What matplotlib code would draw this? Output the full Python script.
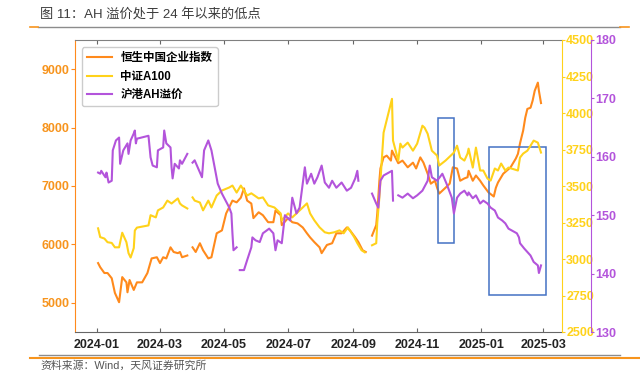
import numpy as np
import pandas as pd
import matplotlib
matplotlib.use("Agg")
import matplotlib.pyplot as plt
import matplotlib.dates as mdates
from matplotlib.patches import Rectangle
from matplotlib.lines import Line2D

plt.rcParams['font.family'] = ['Liberation Sans', 'Noto Sans CJK SC', 'DejaVu Sans']

nan = np.nan

# 恒生中国企业指数 (左轴)
hs_dates = ["2024-01-02", "2024-01-04", "2024-01-08", "2024-01-11", "2024-01-15", "2024-01-18",
            "2024-01-22", "2024-01-25", "2024-01-29", "2024-01-30", "2024-02-01", "2024-02-05",
            "2024-02-08", "2024-02-13", "2024-02-18", "2024-02-22", "2024-02-27", "2024-03-01",
            "2024-03-04", "2024-03-07", "2024-03-11", "2024-03-14", "2024-03-18", "2024-03-20",
            "2024-03-22", "2024-03-27", "2024-03-29", "2024-04-01", "2024-04-04", "2024-04-08",
            "2024-04-11", "2024-04-16", "2024-04-19", "2024-04-24", "2024-04-29", "2024-05-03",
            "2024-05-09", "2024-05-13", "2024-05-17", "2024-05-20", "2024-05-23", "2024-05-27",
            "2024-05-29", "2024-06-03", "2024-06-07", "2024-06-12", "2024-06-17", "2024-06-19",
            "2024-06-24", "2024-06-25", "2024-07-01", "2024-07-05", "2024-07-10", "2024-07-15",
            "2024-07-19", "2024-07-22", "2024-07-26", "2024-07-31", "2024-08-02", "2024-08-07",
            "2024-08-12", "2024-08-16", "2024-08-21", "2024-08-26", "2024-08-29", "2024-09-03",
            "2024-09-06", "2024-09-10", "2024-09-13", "2024-09-16", "2024-09-19", "2024-09-23",
            "2024-09-24", "2024-09-26", "2024-09-27", "2024-09-30", "2024-10-03", "2024-10-07",
            "2024-10-08", "2024-10-14", "2024-10-18", "2024-10-23", "2024-10-28", "2024-10-31",
            "2024-11-04", "2024-11-07", "2024-11-11", "2024-11-14", "2024-11-18", "2024-11-20",
            "2024-11-22", "2024-11-28", "2024-12-02", "2024-12-05", "2024-12-09", "2024-12-12",
            "2024-12-16", "2024-12-19", "2024-12-20", "2024-12-24", "2024-12-27", "2024-12-31",
            "2025-01-03", "2025-01-08", "2025-01-13", "2025-01-15", "2025-01-17", "2025-01-22",
            "2025-01-29", "2025-02-03", "2025-02-05", "2025-02-07", "2025-02-10", "2025-02-12",
            "2025-02-14", "2025-02-17", "2025-02-19", "2025-02-21", "2025-02-24", "2025-02-25",
            "2025-02-27"]
hs_vals = [5680, 5610, 5510, 5510, 5420, 5170,
           5010, 5440, 5350, 5180, 5390, 5220,
           5350, 5350, 5510, 5760, 5780, 5680,
           5780, 5760, 5950, 5870, 5850, 5870,
           5780, 5810, nan, 5950, 5870, 6020,
           5900, 5760, 5780, 6190, 6240, 6530,
           6750, 6720, 6800, 6960, 6750, 6700,
           6450, 6550, 6500, 6380, 6380, 6580,
           6500, 6330, 6450, 6380, 6360, 6290,
           6190, 6120, 6040, 5950, 5850, 5990,
           6020, 6190, 6190, 6290, 6240, 6120,
           6040, 5900, 5870, nan, 6150, 6330,
           6530, 7090, 7300, 7490, 7520, 7435,
           7606, 7390, 7435, 7320, 7400, 7300,
           7490, 7400, 7210, 7040, 7090, 6970,
           6870, 6970, 7040, 7320, 7300, 7090,
           7130, 7150, 7260, 7090, 7180, 7090,
           7010, 6890, 6820, 6970, 7060, 7210,
           7320, 7470, 7550, 7730, 7950, 8170,
           8320, 8340, 8460, 8630, 8770, 8630,
           8420]

# 中证A100 (右轴1)
a100_dates = ["2024-01-02", "2024-01-04", "2024-01-08", "2024-01-11", "2024-01-15", "2024-01-18",
              "2024-01-22", "2024-01-25", "2024-01-29", "2024-01-31", "2024-02-02", "2024-02-05",
              "2024-02-06", "2024-02-08", "2024-02-19", "2024-02-21", "2024-02-26", "2024-02-28",
              "2024-03-04", "2024-03-08", "2024-03-12", "2024-03-18", "2024-03-20", "2024-03-22",
              "2024-03-27", "2024-03-29", "2024-04-01", "2024-04-03", "2024-04-08", "2024-04-11",
              "2024-04-16", "2024-04-19", "2024-04-24", "2024-04-29", "2024-05-06", "2024-05-09",
              "2024-05-13", "2024-05-17", "2024-05-23", "2024-05-27", "2024-06-03", "2024-06-07",
              "2024-06-12", "2024-06-18", "2024-06-24", "2024-06-25", "2024-07-01", "2024-07-05",
              "2024-07-10", "2024-07-15", "2024-07-19", "2024-07-22", "2024-07-26", "2024-07-31",
              "2024-08-05", "2024-08-09", "2024-08-14", "2024-08-19", "2024-08-23", "2024-08-27",
              "2024-09-02", "2024-09-05", "2024-09-09", "2024-09-12", "2024-09-16", "2024-09-19",
              "2024-09-23", "2024-09-24", "2024-09-26", "2024-09-30", "2024-10-08", "2024-10-09",
              "2024-10-14", "2024-10-16", "2024-10-18", "2024-10-23", "2024-10-28", "2024-11-01",
              "2024-11-06", "2024-11-08", "2024-11-11", "2024-11-15", "2024-11-20", "2024-11-22",
              "2024-11-28", "2024-12-03", "2024-12-06", "2024-12-09", "2024-12-12", "2024-12-16",
              "2024-12-19", "2024-12-20", "2024-12-24", "2024-12-27", "2024-12-31", "2025-01-03",
              "2025-01-07", "2025-01-10", "2025-01-14", "2025-01-17", "2025-01-20", "2025-01-24",
              "2025-01-27", "2025-02-05", "2025-02-07", "2025-02-10", "2025-02-14", "2025-02-17",
              "2025-02-20", "2025-02-24", "2025-02-27"]
a100_vals = [3210, 3150, 3140, 3115, 3110, 3080,
             3080, 3180, 3115, 3040, 3010, 3075,
             3195, 3215, 3230, 3300, 3285, 3333,
             3353, 3400, 3380, 3415, 3380, 3367,
             3346, nan, 3422, 3400, 3387, 3333,
             3400, 3353, 3435, 3469, 3490, 3503,
             3455, 3503, 3435, 3450, 3415, 3422,
             3367, 3353, 3312, 3265, 3312, 3285,
             3319, 3353, 3381, 3312, 3265, 3217,
             3183, 3176, 3183, 3196, 3176, 3217,
             3150, 3108, 3060, 3046, nan, 3094,
             3108, 3250, 3422, 3865, 4097, 3811,
             3674, 3790, 3763, 3797, 3742, 3790,
             3913, 3900, 3858, 3742, 3708, 3640,
             3674, 3708, 3729, 3776, 3695, 3674,
             3722, 3756, 3626, 3763, 3606, 3606,
             3551, 3537, 3620, 3606, 3654, 3606,
             3626, 3606, 3695, 3722, 3742, 3776,
             3811, 3797, 3729]

# 沪港AH溢价 (右轴2)
ah_dates = ["2024-01-02", "2024-01-04", "2024-01-05", "2024-01-09", "2024-01-10", "2024-01-12",
            "2024-01-15", "2024-01-16", "2024-01-19", "2024-01-22", "2024-01-23", "2024-01-26",
            "2024-01-30", "2024-01-31", "2024-02-02", "2024-02-05", "2024-02-06", "2024-02-07",
            "2024-02-08", "2024-02-19", "2024-02-21", "2024-02-23", "2024-02-27", "2024-02-28",
            "2024-03-04", "2024-03-05", "2024-03-07", "2024-03-11", "2024-03-12", "2024-03-13",
            "2024-03-15", "2024-03-19", "2024-03-20", "2024-03-22", "2024-03-27", "2024-03-29",
            "2024-04-01", "2024-04-03", "2024-04-10", "2024-04-12", "2024-04-16", "2024-04-19",
            "2024-04-22", "2024-04-25", "2024-04-29", "2024-05-06", "2024-05-08", "2024-05-09",
            "2024-05-10", "2024-05-13", "2024-05-15", "2024-05-16", "2024-05-20", "2024-05-23",
            "2024-05-27", "2024-05-28", "2024-05-31", "2024-06-04", "2024-06-07", "2024-06-13",
            "2024-06-17", "2024-06-19", "2024-06-21", "2024-06-25", "2024-06-28", "2024-07-03",
            "2024-07-05", "2024-07-09", "2024-07-12", "2024-07-17", "2024-07-19", "2024-07-23",
            "2024-07-26", "2024-07-29", "2024-08-02", "2024-08-05", "2024-08-09", "2024-08-12",
            "2024-08-16", "2024-08-21", "2024-08-26", "2024-08-30", "2024-09-03", "2024-09-05",
            "2024-09-06", "2024-09-16", "2024-09-19", "2024-09-23", "2024-09-25", "2024-09-27",
            "2024-09-30", "2024-10-08", "2024-10-09", "2024-10-11", "2024-10-14", "2024-10-18",
            "2024-10-23", "2024-10-28", "2024-11-01", "2024-11-06", "2024-11-11", "2024-11-13",
            "2024-11-15", "2024-11-20", "2024-11-25", "2024-11-29", "2024-12-04", "2024-12-06",
            "2024-12-09", "2024-12-12", "2024-12-16", "2024-12-19", "2024-12-20", "2024-12-24",
            "2024-12-27", "2024-12-31", "2025-01-03", "2025-01-07", "2025-01-10", "2025-01-14",
            "2025-01-17", "2025-01-21", "2025-01-24", "2025-01-27", "2025-02-04", "2025-02-06",
            "2025-02-07", "2025-02-11", "2025-02-14", "2025-02-17", "2025-02-20", "2025-02-24",
            "2025-02-25", "2025-02-27"]
ah_vals = [157.3, 157.1, 157.6, 156.5, 157.3, 155.6,
           155.9, 161.1, 162.8, 163.3, 158.8, 161.1,
           162.3, 160.5, 162.8, 164.0, 164.5, 162.3,
           163.1, 163.6, 159.9, 158.5, 158.2, 161.1,
           161.6, 164.5, 162.3, 161.6, 158.2, 156.3,
           158.8, 158.0, 159.4, 158.8, 160.5, nan,
           159.0, 159.4, 156.5, 161.1, 162.8, 161.1,
           158.2, 155.4, 153.7, 151.3, 150.3, 146.9,
           144.0, 144.5, nan, 140.6, 140.6, 142.3,
           144.5, 146.2, 145.7, 145.4, 146.9, 147.7,
           146.9, 144.0, 145.7, 145.2, 150.0, 149.1,
           153.0, 150.3, 151.3, 158.2, 155.4, 157.1,
           155.4, 156.5, 158.5, 155.6, 154.7, 155.9,
           154.7, 155.6, 154.2, 154.7, 156.3, 157.6,
           155.9, nan, 153.7, 152.0, 151.3, 155.9,
           156.8, 157.6, 152.5, nan, 153.4, 153.0,
           153.7, 152.9, 153.4, 154.2, 155.9, 158.5,
           156.5, 155.9, 157.1, 155.4, 153.0, 150.3,
           153.0, 153.7, 154.2, 153.4, 153.9, 152.9,
           153.4, 152.0, 152.5, 152.0, 151.3, 150.8,
           149.6, 149.1, 148.6, 147.7, 146.9, 146.2,
           145.2, 144.3, 143.7, 143.1, 142.0, 141.4,
           140.1, 141.4]

# 标注框 (起止日期, 左轴数值范围)
box_start = ["2024-11-21", "2025-01-08"]
box_end = ["2024-12-06", "2025-03-04"]
box_low = [6020, 5133]
box_high = [8169, 7675]

c_or = '#FF8A1C'
c_ye = '#FFD21A'
c_pu = '#B354DB'

fig = plt.figure(figsize=(6.4, 3.79), dpi=100)
ax = fig.add_axes([75 / 640, 47 / 379, 487 / 640, 292 / 379])
ax2 = ax.twinx()
ax3 = ax.twinx()

l1, = ax.plot(pd.to_datetime(hs_dates), hs_vals, color=c_or, lw=1.5)
l2, = ax2.plot(pd.to_datetime(a100_dates), a100_vals, color=c_ye, lw=1.5)
l3, = ax3.plot(pd.to_datetime(ah_dates), ah_vals, color=c_pu, lw=1.5)

ax.set_xlim(pd.Timestamp("2023-12-11"), pd.Timestamp("2025-03-19"))
ax.set_ylim(4500, 9500)
ax.set_yticks([5000, 6000, 7000, 8000, 9000])
ax2.set_ylim(2500, 4500)
ax2.set_yticks(np.arange(2500, 4501, 250))
ax3.set_ylim(130, 180)
ax3.set_yticks(np.arange(130, 181, 10))

ax.xaxis.set_major_locator(mdates.MonthLocator(bymonth=[1, 3, 5, 7, 9, 11]))
ax.xaxis.set_major_formatter(mdates.DateFormatter('%Y-%m'))

# 边框
for a in (ax, ax2, ax3):
    for s in a.spines.values():
        s.set_visible(False)
ax.spines['left'].set_visible(True)
ax.spines['left'].set_color(c_or)
ax.spines['top'].set_visible(True)
ax.spines['top'].set_color('#808080')
ax.spines['bottom'].set_visible(True)
ax.spines['bottom'].set_color('#666666')
ax2.spines['right'].set_visible(True)
ax2.spines['right'].set_color(c_ye)
ax3.spines['right'].set_visible(True)
ax3.spines['right'].set_color(c_pu)
ax3.spines['right'].set_position(('outward', 21))

ax.tick_params(axis='x', direction='in', top=True, length=3, color='#666666', pad=5,
               labelsize=9, labelcolor='#222222')
ax.tick_params(axis='y', direction='out', length=3, color=c_or, pad=1,
               labelsize=9, labelcolor='#F7941D')
ax2.tick_params(axis='y', direction='out', length=2, color=c_ye, pad=1,
                labelsize=9, labelcolor=c_ye)
ax3.tick_params(axis='y', direction='out', length=2, color=c_pu, pad=1,
                labelsize=9, labelcolor=c_pu)
for a in (ax, ax2, ax3):
    for t in a.get_xticklabels() + a.get_yticklabels():
        t.set_fontweight('bold')

for s, e, lo, hi in zip(box_start, box_end, box_low, box_high):
    x0 = mdates.date2num(pd.Timestamp(s))
    x1 = mdates.date2num(pd.Timestamp(e))
    ax.add_patch(Rectangle((x0, lo), x1 - x0, hi - lo, fill=False,
                           edgecolor='#4472C4', lw=1.1, zorder=5))

leg = ax3.legend([l1, l2, l3], ['恒生中国企业指数', '中证A100', '沪港AH溢价'],
                 loc='upper left', bbox_to_anchor=(0.014, 0.975), borderaxespad=0,
                 prop={'weight': 'bold', 'size': 8.3}, handlelength=2.2,
                 handletextpad=0.7, labelspacing=0.55, borderpad=0.45,
                 frameon=True, fancybox=True, edgecolor='#cccccc', framealpha=1)

# 标题与页眉页脚线
fig.text(40 / 640, 1 - 15 / 379, '图 11：AH 溢价处于 24 年以来的低点', fontsize=9.5,
         color='#3c3c3c', va='center', ha='left')
fig.add_artist(Line2D([38 / 640, 620 / 640], [1 - 27 / 379] * 2, color='#8c8c8c', lw=1))
fig.add_artist(Line2D([30 / 640, 38 / 640], [1 - 27 / 379] * 2, color='#F7941D', lw=1.2))
fig.add_artist(Line2D([620 / 640, 629 / 640], [1 - 27 / 379] * 2, color='#F7941D', lw=1.2))
fig.add_artist(Line2D([39 / 640, 620 / 640], [1 - 355 / 379] * 2, color='#8c8c8c', lw=1))
fig.add_artist(Line2D([30 / 640, 640 / 640], [1 - 358 / 379] * 2, color='#F7941D', lw=1.5))
fig.text(40 / 640, 1 - 366 / 379, '资料来源：Wind，天风证券研究所', fontsize=7.8,
         color='#555555', va='center', ha='left')

fig.savefig('out.png', dpi=100)
